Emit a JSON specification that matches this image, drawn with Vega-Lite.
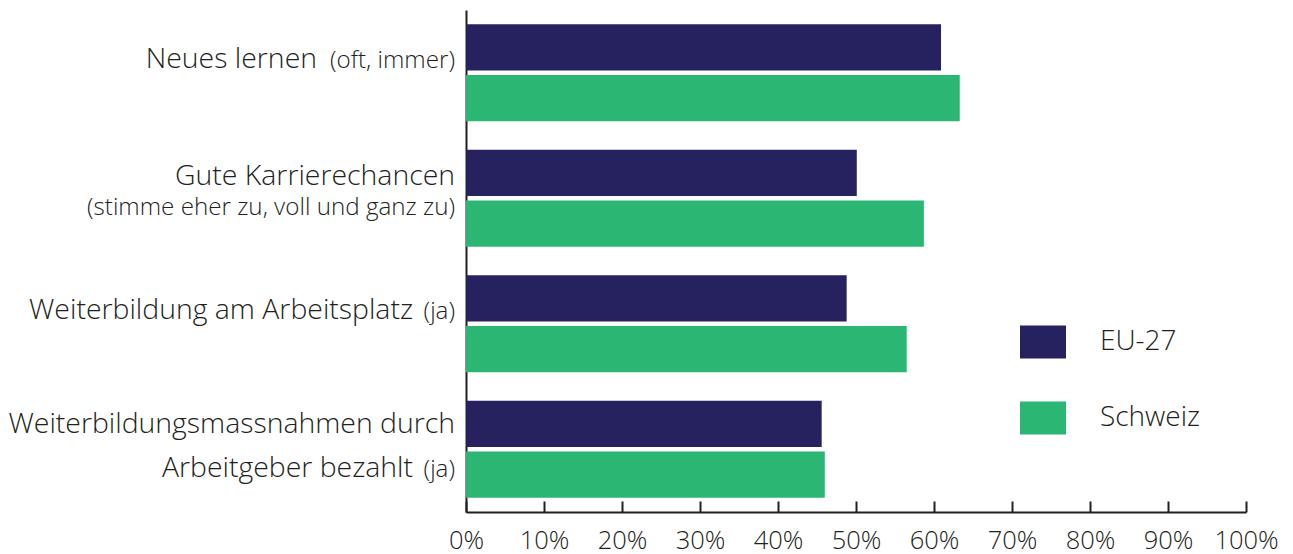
{
  "$schema": "https://vega.github.io/schema/vega-lite/v6.json",
  "width": 780,
  "height": 502,
  "autosize": {"type": "none"},
  "padding": {"left": 466, "top": 10, "right": 47, "bottom": 42},
  "background": "white",
  "config": {"view": {"stroke": null}, "font": "Open Sans"},
  "datasets": {
    "bars": [
      {"cat": "Neues lernen", "series": "EU-27", "value": 0.609},
      {"cat": "Neues lernen", "series": "Schweiz", "value": 0.633},
      {"cat": "Gute Karrierechancen", "series": "EU-27", "value": 0.501},
      {"cat": "Gute Karrierechancen", "series": "Schweiz", "value": 0.587},
      {"cat": "Weiterbildung am Arbeitsplatz", "series": "EU-27", "value": 0.488},
      {"cat": "Weiterbildung am Arbeitsplatz", "series": "Schweiz", "value": 0.565},
      {"cat": "Weiterbildungsmassnahmen", "series": "EU-27", "value": 0.456},
      {"cat": "Weiterbildungsmassnahmen", "series": "Schweiz", "value": 0.46}
    ],
    "labels": [
      {"cat": "Neues lernen", "piece": "n_big", "text": "Neues lernen"},
      {"cat": "Neues lernen", "piece": "s1", "text": "(oft, immer)"},
      {"cat": "Gute Karrierechancen", "piece": "g_big", "text": "Gute Karrierechancen"},
      {"cat": "Gute Karrierechancen", "piece": "g_small", "text": "(stimme eher zu, voll und ganz zu)"},
      {"cat": "Weiterbildung am Arbeitsplatz", "piece": "w_big", "text": "Weiterbildung am Arbeitsplatz"},
      {"cat": "Weiterbildung am Arbeitsplatz", "piece": "s1", "text": "(ja)"},
      {"cat": "Weiterbildungsmassnahmen", "piece": "m_big1", "text": "Weiterbildungsmassnahmen durch"},
      {"cat": "Weiterbildungsmassnahmen", "piece": "m_big2", "text": "Arbeitgeber bezahlt"},
      {"cat": "Weiterbildungsmassnahmen", "piece": "m_small", "text": "(ja)"}
    ]
  },
  "layer": [
    {
      "data": {"name": "bars"},
      "mark": {"type": "bar"},
      "encoding": {
        "y": {
          "field": "cat", "type": "nominal",
          "scale": {"domain": ["Neues lernen", "Gute Karrierechancen", "Weiterbildung am Arbeitsplatz", "Weiterbildungsmassnahmen"], "paddingInner": 0.227, "paddingOuter": 0.1135},
          "axis": {"labels": false, "ticks": false, "title": null, "domainColor": "#231f20", "domainWidth": 2, "grid": false}
        },
        "yOffset": {"field": "series", "type": "nominal", "scale": {"paddingInner": 0.09, "paddingOuter": 0}},
        "x": {
          "field": "value", "type": "quantitative",
          "scale": {"domain": [0, 1], "nice": false},
          "axis": {"format": ".0%", "values": [0, 0.1, 0.2, 0.3, 0.4, 0.5, 0.6, 0.7, 0.8, 0.9, 1], "title": null, "grid": false,
                   "domainColor": "#231f20", "domainWidth": 2, "tickColor": "#231f20", "tickWidth": 2, "tickSize": -11,
                   "labelFontSize": 25.5, "labelFontWeight": 300, "labelColor": "#231f20", "labelPadding": 27, "labelFont": "Open Sans", "labelFlush": false}
        },
        "color": {
          "field": "series", "type": "nominal",
          "scale": {"domain": ["EU-27", "Schweiz"], "range": ["#26215f", "#2cb673"]},
          "legend": {"orient": "none", "legendX": 554, "legendY": 309, "title": null,
                     "symbolType": "M-1,-0.717L1,-0.717L1,0.717L-1,0.717Z", "symbolSize": 2116, "symbolStrokeWidth": 0, "symbolOpacity": 1,
                     "labelFontSize": 28, "labelFontWeight": 300, "labelFont": "Open Sans", "labelColor": "#231f20", "labelOffset": 34, "rowPadding": 36, "padding": 0}
        }
      }
    },
    {
      "data": {"name": "labels"},
      "transform": [{"filter": "datum.piece == 'n_big'"}],
      "mark": {"type": "text", "align": "right", "baseline": "alphabetic", "dx": -149, "dy": -4.5, "fontSize": 28.4, "fontWeight": 300, "color": "#231f20", "font": "Open Sans"},
      "encoding": {"y": {"field": "cat", "type": "nominal"}, "x": {"datum": 0}, "text": {"field": "text"}}
    },
    {
      "data": {"name": "labels"},
      "transform": [{"filter": "datum.piece == 's1'"}],
      "mark": {"type": "text", "align": "right", "baseline": "alphabetic", "dx": -11, "dy": -4.75, "fontSize": 24.2, "fontWeight": 300, "color": "#231f20", "font": "Open Sans"},
      "encoding": {"y": {"field": "cat", "type": "nominal"}, "x": {"datum": 0}, "text": {"field": "text"}}
    },
    {
      "data": {"name": "labels"},
      "transform": [{"filter": "datum.piece == 'g_big'"}],
      "mark": {"type": "text", "align": "right", "baseline": "alphabetic", "dx": -11, "dy": -13.5, "fontSize": 28.4, "fontWeight": 300, "color": "#231f20", "font": "Open Sans"},
      "encoding": {"y": {"field": "cat", "type": "nominal"}, "x": {"datum": 0}, "text": {"field": "text"}}
    },
    {
      "data": {"name": "labels"},
      "transform": [{"filter": "datum.piece == 'g_small'"}],
      "mark": {"type": "text", "align": "right", "baseline": "alphabetic", "dx": -11, "dy": 16.5, "fontSize": 24.2, "fontWeight": 300, "color": "#231f20", "font": "Open Sans"},
      "encoding": {"y": {"field": "cat", "type": "nominal"}, "x": {"datum": 0}, "text": {"field": "text"}}
    },
    {
      "data": {"name": "labels"},
      "transform": [{"filter": "datum.piece == 'w_big'"}],
      "mark": {"type": "text", "align": "right", "baseline": "alphabetic", "dx": -53, "dy": -5, "fontSize": 28.4, "fontWeight": 300, "color": "#231f20", "font": "Open Sans"},
      "encoding": {"y": {"field": "cat", "type": "nominal"}, "x": {"datum": 0}, "text": {"field": "text"}}
    },
    {
      "data": {"name": "labels"},
      "transform": [{"filter": "datum.piece == 'm_big1'"}],
      "mark": {"type": "text", "align": "right", "baseline": "alphabetic", "dx": -11, "dy": -16, "fontSize": 28.4, "fontWeight": 300, "color": "#231f20", "font": "Open Sans"},
      "encoding": {"y": {"field": "cat", "type": "nominal"}, "x": {"datum": 0}, "text": {"field": "text"}}
    },
    {
      "data": {"name": "labels"},
      "transform": [{"filter": "datum.piece == 'm_big2'"}],
      "mark": {"type": "text", "align": "right", "baseline": "alphabetic", "dx": -53, "dy": 28, "fontSize": 28.4, "fontWeight": 300, "color": "#231f20", "font": "Open Sans"},
      "encoding": {"y": {"field": "cat", "type": "nominal"}, "x": {"datum": 0}, "text": {"field": "text"}}
    },
    {
      "data": {"name": "labels"},
      "transform": [{"filter": "datum.piece == 'm_small'"}],
      "mark": {"type": "text", "align": "right", "baseline": "alphabetic", "dx": -11, "dy": 28, "fontSize": 24.2, "fontWeight": 300, "color": "#231f20", "font": "Open Sans"},
      "encoding": {"y": {"field": "cat", "type": "nominal"}, "x": {"datum": 0}, "text": {"field": "text"}}
    }
  ]
}
